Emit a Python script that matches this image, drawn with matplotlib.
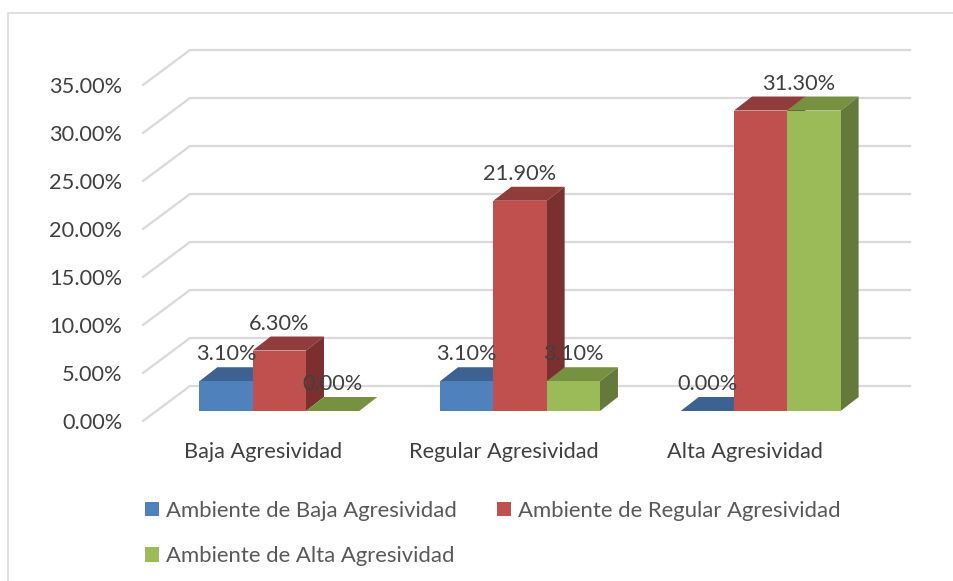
import matplotlib
matplotlib.use('Agg')
import matplotlib.pyplot as plt
from matplotlib.patches import Polygon
from matplotlib.lines import Line2D

plt.rcParams['font.family'] = ['Lato', 'DejaVu Sans']

categories = ['Baja Agresividad', 'Regular Agresividad', 'Alta Agresividad']
series_names = ['Ambiente de Baja Agresividad', 'Ambiente de Regular Agresividad', 'Ambiente de Alta Agresividad']
baja = [3.1, 3.1, 0.0]
regular = [6.3, 21.9, 31.3]
alta = [0.0, 3.1, 31.3]
yticks = [0, 5, 10, 15, 20, 25, 30, 35]

front_cols = ['#4F81BD', '#C0504D', '#9BBB59']
top_cols = ['#3B6290', '#8F3C3A', '#769140']
side_cols = ['#324F75', '#7A302E', '#657A3A']
grid_col = '#D9D9D9'
fs = 15.7

W, H = 954, 581
fig = plt.figure(figsize=(W / 100, H / 100), dpi=100)
left, right, top, bottom = 143, 865, 85, 421
ax = fig.add_axes([left / W, 1 - bottom / H, (right - left) / W, (bottom - top) / H])
ax.set_xlim(0, 3)
ax.set_ylim(0, 35)

# pixels to data units
px = 3 / (right - left)
py = 35 / (bottom - top)

# walls
wall_dx, wall_dy = 47 * px, 35 * py
for t in yticks:
    ax.plot([0, wall_dx, 3 + wall_dx - 2 * px], [t, t + wall_dy, t + wall_dy], color=grid_col, lw=1.6,
            clip_on=False, zorder=1, solid_joinstyle='miter')

# bars, the offsets put them in the middle of the floor
bar_w = 53.3 * px
x_off = 16 * px
base = 10 * py
dx, dy = 18 * px, 14 * py

for s, vals in enumerate([baja, regular, alta]):
    xs = [i + 0.5 + x_off + (s - 1) * bar_w for i in range(3)]
    ax.bar(xs, vals, bar_w, bottom=base, color=front_cols[s], label=series_names[s], zorder=3 + s * 2 + 1, clip_on=False)
    for x, v in zip(xs, vals):
        x0, x1 = x - bar_w / 2, x + bar_w / 2
        y1 = base + v
        ax.add_patch(Polygon([(x0, y1), (x0 + dx, y1 + dy), (x1 + dx, y1 + dy), (x1, y1)],
                             fc=top_cols[s], ec='none', zorder=3 + s * 2, clip_on=False))
        if v > 0:
            ax.add_patch(Polygon([(x1, base), (x1 + dx, base + dy), (x1 + dx, y1 + dy), (x1, y1)],
                                 fc=side_cols[s], ec='none', zorder=3 + s * 2, clip_on=False))
        if s == 1 and x > 2:
            continue  # only one 31.30% label shows in the chart
        lx = x - 15 * px if (s == 2 and x > 2) else x
        ax.text(lx, y1 + 27 * py, '%.2f%%' % v, ha='center', va='center', fontsize=fs, color='#404040', zorder=20)

ax.set_xticks([0.5, 1.5, 2.5])
ax.set_xticklabels(categories, fontsize=fs, color='#404040')
ax.set_yticks(yticks)
ax.set_yticklabels(['%.2f%%' % t for t in yticks], fontsize=fs, color='#404040')
ax.tick_params(length=0, axis='y', pad=15)
ax.tick_params(length=0, axis='x', pad=15)
for sp in ax.spines.values():
    sp.set_visible(False)
ax.patch.set_visible(False)

# legend fills by column, so Alta goes second
h, l = ax.get_legend_handles_labels()
order = [0, 2, 1]
leg = fig.legend([h[i] for i in order], [l[i] for i in order], ncols=2, frameon=False,
                 loc='upper left', bbox_to_anchor=(136 / W, 1 - 492 / H), borderaxespad=0,
                 fontsize=15.9, labelcolor='#595959', handlelength=0.64, handleheight=0.64,
                 handletextpad=0.33, columnspacing=1.8, labelspacing=1.14)

# chart border, cropped at right and bottom
fig.add_artist(Line2D([8 / W, 8 / W, 1], [0, 1 - 13 / H, 1 - 13 / H], color=grid_col, lw=1.2))

fig.savefig('out.png', dpi=100)
